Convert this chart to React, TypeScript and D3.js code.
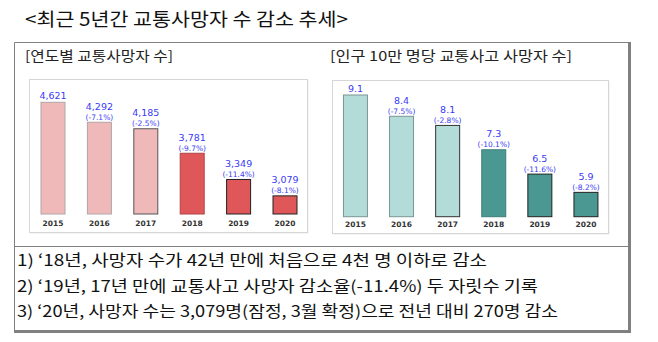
import React from "react";
import * as d3 from "d3";

const years = ["2015", "2016", "2017", "2018", "2019", "2020"];
const deaths = [4621, 4292, 4185, 3781, 3349, 3079];
const deathLabels = ["4,621", "4,292", "4,185", "3,781", "3,349", "3,079"];
const deathPct = ["", "(-7.1%)", "(-2.5%)", "(-9.7%)", "(-11.4%)", "(-8.1%)"];
const rates = [9.1, 8.4, 8.1, 7.3, 6.5, 5.9];
const rateLabels = ["9.1", "8.4", "8.1", "7.3", "6.5", "5.9"];
const ratePct = ["", "(-7.5%)", "(-2.8%)", "(-10.1%)", "(-11.6%)", "(-8.2%)"];
const highlight = [false, false, false, true, true, true];

const mainTitle = "<최근 5년간 교통사망자 수 감소 추세>";
const leftTitle = "[연도별 교통사망자 수]";
const rightTitle = "[인구 10만 명당 교통사고 사망자 수]";
const notes = [
  "1) ‘18년, 사망자 수가 42년 만에 처음으로 4천 명 이하로 감소",
  "2) ‘19년, 17년 만에 교통사고 사망자 감소율(-11.4%) 두 자릿수 기록",
  "3) ‘20년, 사망자 수는 3,079명(잠정, 3월 확정)으로 전년 대비 270명 감소",
];

const KFONT = "'Noto Sans CJK KR', 'Noto Sans', sans-serif";
const NFONT = "'DejaVu Sans', Verdana, sans-serif";

type PanelProps = {
  values: number[];
  labels: string[];
  pcts: string[];
  x0: number;
  x1: number;
  yBase: number;
  yTop: number;
  domain: [number, number];
  light: string;
  dark: string;
  edges: string[];
  yearY: number;
  frame: { x: number; y: number; w: number; h: number };
};

function Panel(p: PanelProps) {
  const x = d3.scalePoint<string>().domain(years).range([p.x0, p.x1]).padding(0.5);
  const y = d3.scaleLinear().domain(p.domain).range([p.yBase, p.yTop]);
  const bw = 24;
  return (
    <g>
      <rect x={p.frame.x + 1} y={p.frame.y + 1} width={p.frame.w} height={p.frame.h} fill="#ececec" />
      <rect x={p.frame.x} y={p.frame.y} width={p.frame.w} height={p.frame.h} fill="#fff" stroke="#d6d6d6" />
      {years.map((yr, i) => {
        const cx = x(yr) as number;
        const top = y(p.values[i]);
        return (
          <g key={yr}>
            <rect
              x={cx - bw / 2}
              y={top}
              width={bw}
              height={p.yBase - top}
              fill={highlight[i] ? p.dark : p.light}
              stroke={p.edges[i]}
              strokeWidth={1}
            />
            {p.pcts[i] ? (
              <>
                <text x={cx} y={top - 12.5} textAnchor="middle" fontFamily={NFONT} fontSize={9.5} fill="#3b3bf5">
                  {p.labels[i]}
                </text>
                <text x={cx} y={top - 2.5} textAnchor="middle" fontFamily={NFONT} fontSize={7.5} fill="#3b3bf5">
                  {p.pcts[i]}
                </text>
              </>
            ) : (
              <text x={cx} y={top - 3} textAnchor="middle" fontFamily={NFONT} fontSize={9.5} fill="#3b3bf5">
                {p.labels[i]}
              </text>
            )}
            <text x={cx} y={p.yearY} textAnchor="middle" fontFamily={NFONT} fontSize={7.5} fontWeight="bold" fill="#333">
              {yr}
            </text>
          </g>
        );
      })}
    </g>
  );
}

export default function App() {
  return (
    <svg width={658} height={342} style={{ position: "absolute", left: 0, top: 0 }}>
      <rect width={658} height={342} fill="#fff" />
      <text x={25} y={26} fontFamily={KFONT} fontSize={18.5} fill="#111" textLength={323} lengthAdjust="spacingAndGlyphs">
        {mainTitle}
      </text>
      {/* outer frame */}
      <line x1={14.5} y1={42.5} x2={629} y2={42.5} stroke="#808080" />
      <line x1={14.5} y1={42.5} x2={14.5} y2={331} stroke="#808080" />
      <rect x={628} y={42} width={3} height={291} fill="#808080" />
      <rect x={14} y={330} width={617} height={3} fill="#808080" />
      <line x1={14.5} y1={246.5} x2={628} y2={246.5} stroke="#808080" />

      <text x={25} y={61} fontFamily={KFONT} fontSize={13.5} fill="#222" textLength={148} lengthAdjust="spacingAndGlyphs">
        {leftTitle}
      </text>
      <text x={330} y={61} fontFamily={KFONT} fontSize={13.5} fill="#222" textLength={242} lengthAdjust="spacingAndGlyphs">
        {rightTitle}
      </text>

      <Panel
        values={deaths}
        labels={deathLabels}
        pcts={deathPct}
        x0={29.8}
        x1={308.2}
        yBase={214}
        yTop={102.3}
        domain={[2780, 4621]}
        light="#f0b9b9"
        dark="#e0575a"
        edges={["#b0a6a6", "#b0a6a6", "#555", "#b04446", "#222", "#222"]}
        yearY={225.5}
        frame={{ x: 29.5, y: 79.5, w: 278, h: 153 }}
      />
      <Panel
        values={rates}
        labels={rateLabels}
        pcts={ratePct}
        x0={332.4}
        x1={609}
        yBase={216.7}
        yTop={95}
        domain={[5.1, 9.1]}
        light="#b3dcd9"
        dark="#4a9891"
        edges={["#7a9694", "#7a9694", "#333", "#3d7f79", "#222", "#222"]}
        yearY={227}
        frame={{ x: 332.5, y: 80.5, w: 276, h: 153 }}
      />

      {notes.map((t, i) => (
        <text
          key={i}
          x={17}
          y={266 + i * 25.5}
          fontFamily={KFONT}
          fontSize={15.5}
          fill="#111"
          textLength={[470, 521, 541][i]}
          lengthAdjust="spacingAndGlyphs"
        >
          {t}
        </text>
      ))}
    </svg>
  );
}
